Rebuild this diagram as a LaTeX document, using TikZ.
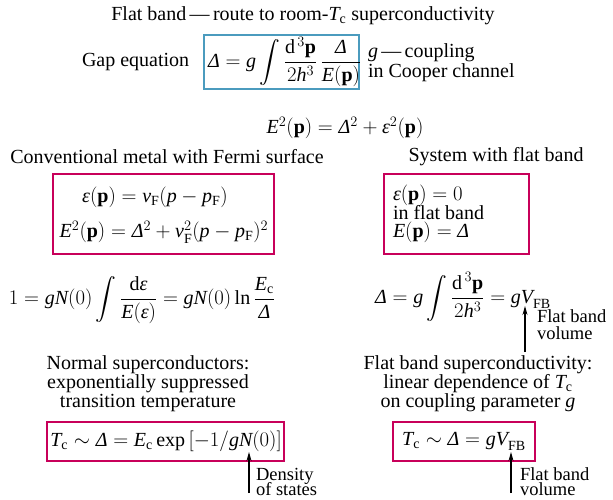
\documentclass[tikz,border=0pt]{standalone}
\usepackage{amsmath}
\usepackage{fontspec}
\setmainfont{Liberation Serif}
\usetikzlibrary{arrows.meta}
\definecolor{boxred}{RGB}{200,0,90}
\definecolor{boxblue}{RGB}{75,155,190}
\newcommand{\D}{{\mbox{\itshape Δ}}}
\newcommand{\ve}{{\mbox{\itshape ε}}}
\newcommand{\bp}{\mathbf{p}}
\newcommand{\mi}[1]{\mathit{#1}}
\newcommand{\rmsub}[1]{_{\mathrm{#1}}}
\begin{document}
\begin{tikzpicture}[x=1pt,y=-1pt,
  font=\fontsize{20}{19}\selectfont,
  every node/.style={inner sep=0pt, outer sep=0pt},
  redbox/.style={draw=boxred, line width=2pt},
  bluebox/.style={draw=boxblue, line width=2pt},
  lbl/.style={align=center},
  line/.style={anchor=base west},
  notel/.style={anchor=base west, font=\fontsize{18.5}{18}\selectfont},
  uparrow/.style={line width=1.1pt, -{Stealth[length=9pt,width=5pt]}}]
\useasboundingbox (0,0) rectangle (613,499);

% title
\node[lbl] (title) at (303,16) {Flat band\,—\,route to room-\(\mi{T}\rmsub{c}\) superconductivity};

% gap equation
\node[anchor=west] (gaplbl) at (82,62) {Gap equation};
\node[bluebox, minimum width=155, minimum height=54] (gapbox) at (281,62) {};
\node[anchor=west] (gapeq) at (208,62) {\(\displaystyle \D = \mi{g}\int\frac{\mathrm{d}^{\,3}\bp}{2\mi{h}^3}\,\frac{\D}{\mi{E}(\bp)}\)};
\node[line] (coupl1) at (368,57) {\(\mi{g}\)\,—\,coupling};
\node[line] (coupl2) at (368,77) {in Cooper channel};

% E^2
\node (e2) at (345,128) {\(\mi{E}^2(\bp) = \D^2 + \ve^2(\bp)\)};

% left column
\node (conv) at (167,157) {Conventional metal with Fermi surface};
\node[redbox, minimum width=221, minimum height=80] (lbox) at (163.5,214) {};
\node (leq1) at (155,197) {\(\ve(\bp) = \mi{v}\rmsub{F}(\mi{p} - \mi{p}\rmsub{F})\)};
\node (leq2) at (164,232) {\(\mi{E}^2(\bp) = \D^2 + \mi{v}\rmsub{F}^2(\mi{p} - \mi{p}\rmsub{F})^2\)};

% right column
\node (flatsys) at (496,157) {System with flat band};
\node[redbox, minimum width=145, minimum height=80] (rbox) at (456.5,214) {};
\node[anchor=west] (req1) at (393,195) {\(\ve(\bp) = 0\)};
\node[anchor=west] (req2) at (393,213) {in flat band};
\node[anchor=west] (req3) at (393,232) {\(\mi{E}(\bp) = \D\)};

% left integral
\node (lint) at (142,300) {\(\displaystyle 1 = \mi{gN}(0)\int\frac{\mathrm{d}\ve}{\mi{E}(\ve)} = \mi{gN}(0)\ln\frac{\mi{E}\rmsub{c}}{\D}\)};

% right integral
\node (rint) at (463,297) {\(\displaystyle \D = \mi{g}\int\frac{\mathrm{d}^{\,3}\bp}{2\mi{h}^3} = \mi{gV}\rmsub{FB}\)};
\coordinate (ra1s) at (525,352);
\coordinate (ra1t) at (525,306);
\draw[uparrow] (ra1s) -- (ra1t);
\node[notel] (fbv1a) at (537,322) {Flat band};
\node[notel] (fbv1b) at (537,339) {volume};

% captions
\node[lbl] (normcap) at (148,384) {Normal superconductors:\\exponentially suppressed\\transition temperature};
\node[lbl] (flatcap) at (478,384) {Flat band superconductivity:\\linear dependence of \(\mi{T}\rmsub{c}\)\\on coupling parameter \(\mi{g}\)};

% bottom boxes
\node[redbox, minimum width=237, minimum height=39] (lbbox) at (165.5,441.5) {};
\node (lbeq) at (166,441) {\(\mi{T}\rmsub{c} \sim \D = \mi{E}\rmsub{c}\exp\left[-1/\mi{gN}(0)\right]\)};
\coordinate (la2s) at (249,493);
\coordinate (la2t) at (249,452);
\draw[uparrow] (la2s) -- (la2t);
\node[notel] (dos1) at (256,480) {Density};
\node[notel] (dos2) at (256,495) {of states};

\node[redbox, minimum width=142, minimum height=39] (rbbox) at (464,441.5) {};
\node (rbeq) at (464,441) {\(\mi{T}\rmsub{c} \sim \D = \mi{gV}\rmsub{FB}\)};
\coordinate (ra2s) at (511,493);
\coordinate (ra2t) at (511,452);
\draw[uparrow] (ra2s) -- (ra2t);
\node[notel] (fbv2a) at (520,480) {Flat band};
\node[notel] (fbv2b) at (520,495) {volume};
\end{tikzpicture}
\end{document}
